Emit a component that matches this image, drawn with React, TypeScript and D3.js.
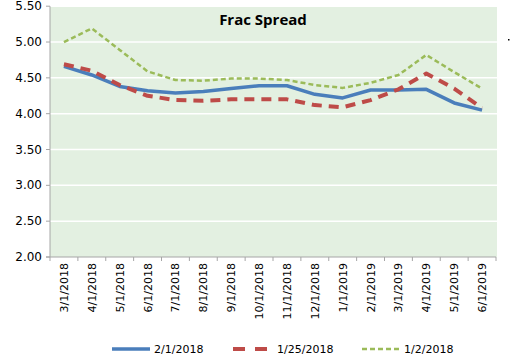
import React from "react";
import * as d3 from "d3";

const categories = ["3/1/2018","4/1/2018","5/1/2018","6/1/2018","7/1/2018","8/1/2018","9/1/2018","10/1/2018","11/1/2018","12/1/2018","1/1/2019","2/1/2019","3/1/2019","4/1/2019","5/1/2019","6/1/2019"];
const s2_1_2018 = [4.66,4.54,4.38,4.32,4.29,4.31,4.35,4.39,4.39,4.27,4.22,4.33,4.33,4.34,4.15,4.05];
const s1_25_2018 = [4.69,4.60,4.40,4.25,4.19,4.18,4.20,4.20,4.20,4.12,4.09,4.19,4.34,4.56,4.35,4.08];
const s1_2_2018 = [5.00,5.19,4.89,4.59,4.47,4.46,4.49,4.49,4.47,4.40,4.36,4.43,4.54,4.82,4.58,4.35];
const yTicks = [2.0,2.5,3.0,3.5,4.0,4.5,5.0,5.5];
const seriesNames = ["2/1/2018","1/25/2018","1/2/2018"];

const W = 515, H = 363;
const left = 50, right = 496, top = 6.2, bottom = 257;

export default function App() {
  const x = d3.scaleBand<string>().domain(categories).range([left, right]);
  const y = d3.scaleLinear().domain([2, 5.5]).range([bottom, top]);
  const line = d3.line<number>().x((_, i) => (x(categories[i]) as number) + x.bandwidth() / 2).y(d => y(d));
  const series = [
    { name: seriesNames[0], data: s2_1_2018, color: "#4A7EBB", width: 3.5, dash: "none" },
    { name: seriesNames[1], data: s1_25_2018, color: "#BE4B48", width: 4, dash: "10,7" },
    { name: seriesNames[2], data: s1_2_2018, color: "#9BBB59", width: 2.5, dash: "5,3" },
  ];
  const legendX = [112, 233, 362];
  const font = "'DejaVu Sans', Verdana, sans-serif";
  return (
    <svg width={W} height={H} style={{ position: "absolute", left: 0, top: 0, background: "#fff" }}>
      <rect x={left} y={top} width={right - left + 1} height={bottom - top} fill="#E3F0E1" />
      {yTicks.filter(t => t > 2).map(t => (
        <line key={t} x1={left} x2={right + 1} y1={y(t)} y2={y(t)} stroke="#fff" strokeWidth={1.5} />
      ))}
      <line x1={left} x2={left} y1={top} y2={bottom} stroke="#A6A6A6" strokeWidth={1} />
      <line x1={left - 4} x2={right} y1={bottom} y2={bottom} stroke="#A6A6A6" strokeWidth={1} />
      {yTicks.map(t => (
        <g key={t}>
          <line x1={left - 4} x2={left} y1={y(t)} y2={y(t)} stroke="#A6A6A6" />
          <text x={42} y={y(t) + 4} textAnchor="end" fontSize={12} fontFamily={font} fill="#000">{t.toFixed(2)}</text>
        </g>
      ))}
      {categories.map((c, i) => (
        <line key={"t" + i} x1={(x(c) as number)} x2={(x(c) as number)} y1={bottom} y2={bottom + 4} stroke="#A6A6A6" />
      ))}
      <line x1={right} x2={right} y1={bottom} y2={bottom + 4} stroke="#A6A6A6" />
      {categories.map(c => {
        const cx = (x(c) as number) + x.bandwidth() / 2 + 4;
        return (
          <text key={c} transform={`translate(${cx},${bottom + 6}) rotate(-90)`} textAnchor="end" fontSize={11} fontFamily={font} fill="#000">{c}</text>
        );
      })}
      {series.map(s => (
        <path key={s.name} d={line(s.data) as string} fill="none" stroke={s.color} strokeWidth={s.width} strokeDasharray={s.dash} strokeLinejoin="round" />
      ))}
      <text x={263} y={25} textAnchor="middle" fontSize={15} fontWeight="bold" fontFamily="'Open Sans', 'Noto Sans', sans-serif" fill="#000">Frac Spread</text>
      <rect x={508} y={39} width={1.5} height={1.5} fill="#000" />
      {series.map((s, i) => (
        <g key={"l" + i}>
          <line x1={legendX[i]} x2={legendX[i] + 38} y1={349} y2={349} stroke={s.color} strokeWidth={s.width} strokeDasharray={s.dash === "10,7" ? "12,10" : s.dash} />
          <text x={legendX[i] + (i === 1 ? 44 : 42)} y={353} fontSize={11} fontFamily={font} fill="#000">{s.name}</text>
        </g>
      ))}
    </svg>
  );
}
